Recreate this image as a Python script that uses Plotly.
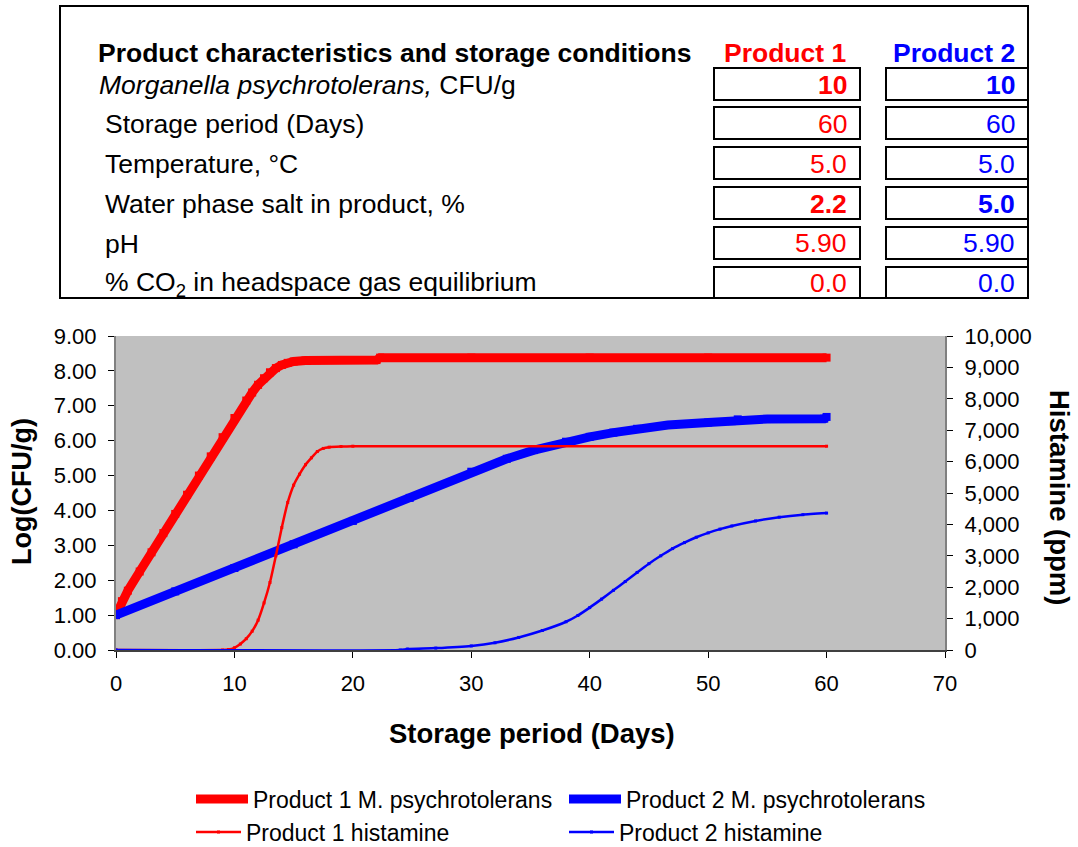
import plotly.graph_objects as go

# ---------------- data ----------------
days_p1_cfu = [0, 0.5, 1, 2, 3, 4, 5, 6, 7, 8, 9, 10, 11, 11.5, 12, 12.5, 13, 13.5, 14, 14.5,
               15, 16, 17, 22, 22.3, 30, 40, 50, 60]
log_p1_cfu = [1.0, 1.4, 1.7, 2.25, 2.8, 3.35, 3.9, 4.45, 5.0, 5.55, 6.1, 6.65, 7.15, 7.38, 7.6,
              7.79, 7.96, 8.08, 8.17, 8.23, 8.27, 8.3, 8.31, 8.31, 8.38, 8.38, 8.38, 8.38, 8.38]

days_p2_cfu = [0, 5, 10, 15, 20, 24.8, 30, 33, 35.3, 38, 40, 42, 44, 46.6, 50, 52, 52.5, 55, 59.8, 60]
log_p2_cfu = [1.0, 1.68, 2.35, 3.03, 3.7, 4.36, 5.11, 5.48, 5.73, 5.97, 6.11, 6.23, 6.34, 6.45,
              6.52, 6.56, 6.61, 6.62, 6.63, 6.68]

days_p1_hist = [0, 9, 9.5, 10, 10.5, 11, 11.5, 12, 12.5, 13, 13.5, 14, 14.5, 15, 15.5, 16, 16.5,
                17, 17.5, 18, 19, 20, 60]
ppm_p1_hist = [0, 0, 15, 70, 190, 360, 600, 950, 1500, 2150, 3000, 3900, 4700, 5250, 5600, 5900,
               6120, 6320, 6420, 6460, 6480, 6490, 6490]

days_p2_hist = [0, 24, 24.6, 27, 30, 32, 34, 36, 38, 39, 40, 41, 42, 43, 44, 45, 46, 47, 48, 49,
                50, 51, 52, 54, 56, 58, 60]
ppm_p2_hist = [0, 0, 30, 60, 130, 230, 400, 620, 900, 1100, 1350, 1620, 1900, 2180, 2470, 2750,
               3000, 3230, 3420, 3590, 3730, 3850, 3950, 4110, 4230, 4310, 4360]

series_names = ["Product 1 M. psychrotolerans", "Product 2 M. psychrotolerans",
                "Product 1 histamine", "Product 2 histamine"]

table_header = "Product characteristics and storage conditions"
product_headers = ["Product 1", "Product 2"]
row_labels = ["<i>Morganella psychrotolerans,</i> CFU/g", "Storage period (Days)",
              "Temperature, °C", "Water phase salt in product, %", "pH",
              "% CO<sub>2</sub> in headspace gas equilibrium"]
p1_values = ["10", "60", "5.0", "2.2", "5.90", "0.0"]
p2_values = ["10", "60", "5.0", "5.0", "5.90", "0.0"]
bold_rows = [True, False, False, True, False, False]

x_ticks = [0, 10, 20, 30, 40, 50, 60, 70]
y_ticks = [0, 1, 2, 3, 4, 5, 6, 7, 8, 9]
y2_ticks = list(range(0, 10001, 1000))

# ---------------- style ----------------
FONT = "Arial, Liberation Sans, sans-serif"
RED = "#FF0000"
BLUE = "#0000FF"
W, H = 1078, 847
L, R, T, B = 116, 945, 336, 650


def px(x):
    return (x - L) / (R - L)


def py(y):
    return (B - y) / (B - T)


fig = go.Figure()
fig.add_trace(go.Scatter(x=days_p1_cfu, y=log_p1_cfu, mode="lines+markers", name=series_names[0],
                         line=dict(color=RED, width=9),
                         marker=dict(symbol="square", size=8, color=RED), legend="legend2"))
fig.add_trace(go.Scatter(x=days_p2_cfu, y=log_p2_cfu, mode="lines+markers", name=series_names[1],
                         line=dict(color=BLUE, width=9),
                         marker=dict(symbol="square", size=8, color=BLUE), legend="legend3"))
fig.add_trace(go.Scatter(x=days_p1_hist, y=ppm_p1_hist, mode="lines+markers", name=series_names[2],
                         line=dict(color=RED, width=2.5, shape="spline", smoothing=0.5),
                         marker=dict(symbol="square", size=3, color=RED),
                         yaxis="y2", legend="legend4"))
fig.add_trace(go.Scatter(x=days_p2_hist, y=ppm_p2_hist, mode="lines+markers", name=series_names[3],
                         line=dict(color=BLUE, width=2.5, shape="spline", smoothing=0.5),
                         marker=dict(symbol="square", size=3, color=BLUE),
                         yaxis="y2", legend="legend5"))

shapes = []
annotations = []

# outer table box
shapes.append(dict(type="rect", xref="paper", yref="paper", x0=px(60), x1=px(1028),
                   y0=py(298), y1=py(6), line=dict(color="black", width=2)))

annotations.append(dict(text="<b>%s</b>" % table_header, x=px(96), y=py(53), xref="paper",
                        yref="paper", xanchor="left", yanchor="middle", showarrow=False,
                        font=dict(size=26.5, color="black", family=FONT)))
annotations.append(dict(text="<b>%s</b>" % product_headers[0], x=px(848), y=py(53), xref="paper",
                        yref="paper", xanchor="right", yanchor="middle", showarrow=False,
                        font=dict(size=26.5, color=RED, family=FONT)))
annotations.append(dict(text="<b>%s</b>" % product_headers[1], x=px(1017), y=py(53), xref="paper",
                        yref="paper", xanchor="right", yanchor="middle", showarrow=False,
                        font=dict(size=26.5, color=BLUE, family=FONT)))

row_tops = [68, 107, 147, 187, 227, 267]
row_centers = [85, 124, 164, 204, 243.5, 283.5]
for i, lab in enumerate(row_labels):
    xl = 97 if i == 0 else 103
    annotations.append(dict(text=lab, x=px(xl), y=py(row_centers[i]), xref="paper", yref="paper",
                            xanchor="left", yanchor="middle", showarrow=False,
                            font=dict(size=26.5, color="black", family=FONT)))
    top = row_tops[i]
    bot = min(top + 32, 298)
    for (x0, x1, xr, vals, col) in [(714, 860, 849, p1_values, RED), (886, 1028, 1017, p2_values, BLUE)]:
        shapes.append(dict(type="rect", xref="paper", yref="paper", x0=px(x0), x1=px(x1),
                           y0=py(bot), y1=py(top), line=dict(color="black", width=2)))
        v = vals[i]
        txt = "<b>%s</b>" % v if bold_rows[i] else v
        annotations.append(dict(text=txt, x=px(xr), y=py(row_centers[i] - 0.5), xref="paper",
                                yref="paper", xanchor="right", yanchor="middle", showarrow=False,
                                font=dict(size=26.5, color=col, family=FONT)))

# axis titles
annotations.append(dict(text="<b>Log(CFU/g)</b>", x=px(22), y=py(492), xref="paper", yref="paper",
                        textangle=-90, showarrow=False, xanchor="center", yanchor="middle",
                        font=dict(size=27, color="black", family=FONT)))
annotations.append(dict(text="<b>Histamine (ppm)</b>", x=px(1060), y=py(497), xref="paper",
                        yref="paper", textangle=90, showarrow=False, xanchor="center",
                        yanchor="middle", font=dict(size=27.5, color="black", family=FONT)))
annotations.append(dict(text="<b>Storage period (Days)</b>", x=px(532), y=py(733), xref="paper",
                        yref="paper", showarrow=False, xanchor="center", yanchor="middle",
                        font=dict(size=27.5, color="black", family=FONT)))

axis_common = dict(showgrid=False, zeroline=False, ticks="outside", tickcolor="black",
                   tickwidth=1, ticklen=6, showline=True,
                   tickfont=dict(size=22, color="black", family=FONT))

leg_common = dict(orientation="h", bgcolor="rgba(0,0,0,0)", borderwidth=0,
                  font=dict(size=23, color="black", family=FONT), xanchor="left",
                  yanchor="middle", xref="paper", yref="paper")

fig.update_layout(
    width=W, height=H,
    margin=dict(l=L, r=W - R, t=T, b=H - B, pad=0, autoexpand=False),
    paper_bgcolor="white", plot_bgcolor="#C0C0C0",
    font=dict(family=FONT, color="black"),
    showlegend=True,
    xaxis=dict(range=[0, 70], tickvals=x_ticks, linecolor="#404040", linewidth=1.5,
               ticklabelstandoff=7, **axis_common),
    yaxis=dict(range=[0, 9], tickvals=y_ticks, tickformat=".2f", linecolor="#808080",
               linewidth=2, ticklabelstandoff=7, **axis_common),
    yaxis2=dict(range=[0, 10000], tickvals=y2_ticks, tickformat=",d", overlaying="y",
                side="right", linecolor="#808080", linewidth=2, ticklabelstandoff=7,
                **axis_common),
    legend2=dict(x=px(191), y=py(799), itemwidth=52, **leg_common),
    legend3=dict(x=px(564), y=py(799), itemwidth=52, **leg_common),
    legend4=dict(x=px(191), y=py(832), itemwidth=45, **leg_common),
    legend5=dict(x=px(564), y=py(832), itemwidth=45, **leg_common),
    shapes=shapes,
    annotations=annotations,
)

fig.write_html("out.html", config={"displayModeBar": False},
               post_script="document.body.style.margin='0px';")
